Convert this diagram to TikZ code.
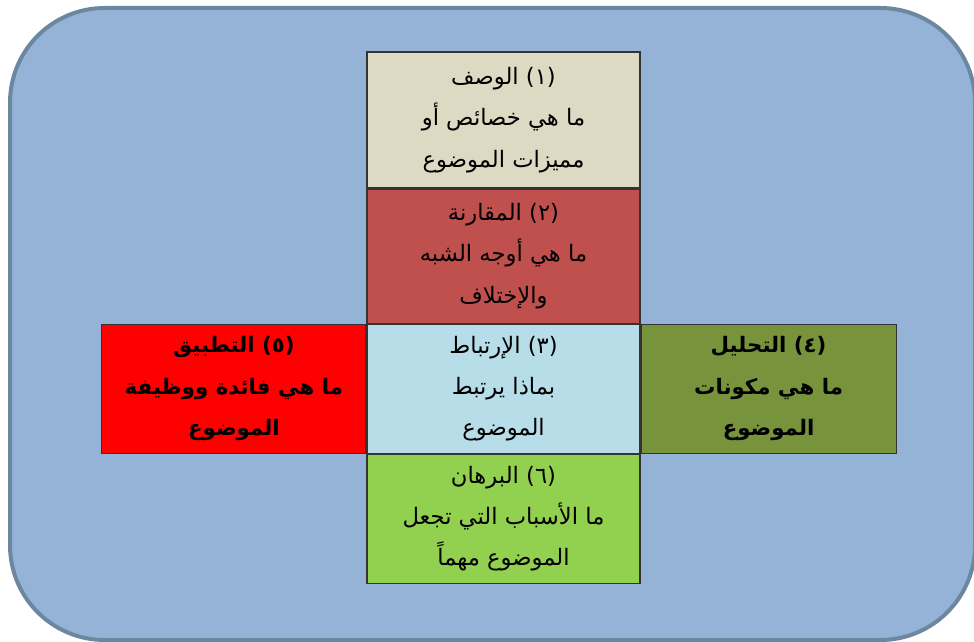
\documentclass[tikz,border=0pt]{standalone}
\usepackage{fontspec}
\newfontfamily\arabicfont[Script=Arabic]{DejaVu Sans}
\TeXXeTstate=1
\usetikzlibrary{positioning}
\definecolor{panelfill}{HTML}{95B3D7}
\definecolor{panelline}{HTML}{6C87A0}
\definecolor{descfill}{HTML}{DDD9C3}
\definecolor{comparefill}{HTML}{C0504D}
\definecolor{linkfill}{HTML}{B7DDE8}
\definecolor{analysisfill}{HTML}{77933C}
\definecolor{applyfill}{HTML}{FF0000}
\definecolor{prooffill}{HTML}{92D050}
\newcommand{\arline}[1]{\beginR #1\endR}
\tikzset{
  cell/.style={draw=black!80, line width=0.8pt, minimum width=204.75pt,
    inner sep=0pt, align=center, text=black,
    font=\arabicfont\fontsize{17}{31}\selectfont},
  boldcell/.style={cell, font=\arabicfont\bfseries\fontsize{16}{31}\selectfont}
}
\begin{document}
\begin{tikzpicture}[x=0.75pt,y=-0.75pt]
  \useasboundingbox (0,0) rectangle (974,642);
  \draw[panelline, fill=panelfill, line width=3pt, rounded corners=71pt]
    (10,8) rectangle (975,640);
  \node[cell, fill=descfill, minimum height=102pt] (desc) at (503.5,120)
    {\arline{(١) الوصف}\\ \arline{ما هي خصائص أو}\\ \arline{مميزات الموضوع}};
  \node[cell, fill=comparefill, minimum height=100.5pt, below=0pt of desc] (compare)
    {\arline{(٢) المقارنة}\\ \arline{ما هي أوجه الشبه}\\ \arline{والإختلاف}};
  \node[cell, fill=linkfill, minimum height=96.75pt, below=0pt of compare] (link)
    {\arline{(٣) الإرتباط}\\ \arline{بماذا يرتبط}\\ \arline{الموضوع}};
  \node[boldcell, fill=applyfill, minimum width=198pt, minimum height=96.75pt, left=0pt of link] (apply)
    {\arline{(٥) التطبيق}\\ \arline{ما هي فائدة ووظيفة}\\ \arline{الموضوع}};
  \node[boldcell, fill=analysisfill, minimum width=191.25pt, minimum height=96.75pt, right=0pt of link] (analysis)
    {\arline{(٤) التحليل}\\ \arline{ما هي مكونات}\\ \arline{الموضوع}};
  \node[cell, fill=prooffill, minimum height=96.75pt, below=0pt of link] (proof)
    {\arline{(٦) البرهان}\\ \arline{ما الأسباب التي تجعل}\\ \arline{الموضوع مهماً}};
\end{tikzpicture}
\end{document}
